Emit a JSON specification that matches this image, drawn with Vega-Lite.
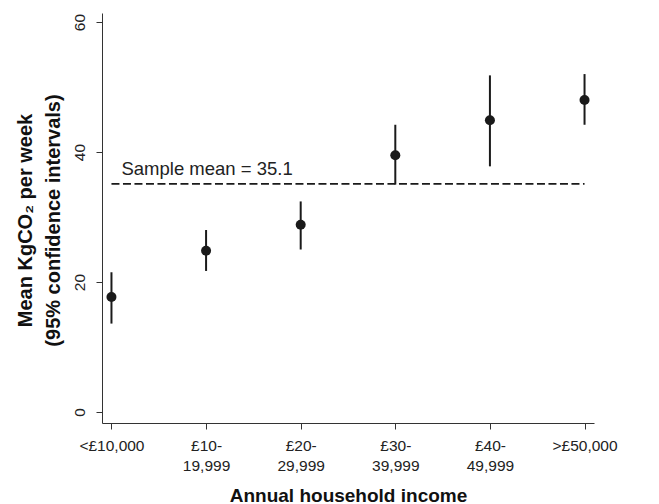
{
  "$schema": "https://vega.github.io/schema/vega-lite/v6.json",
  "width": 492,
  "height": 410,
  "autosize": "none",
  "padding": {"left": 102, "top": 13, "right": 65, "bottom": 81},
  "background": "white",
  "config": {
    "view": {"stroke": null},
    "font": "Liberation Sans",
    "axis": {"domainColor": "#333333", "tickColor": "#333333", "labelColor": "#222222", "titleColor": "#111111", "grid": false, "labelFont": "Liberation Sans", "titleFont": "Liberation Sans"}
  },
  "datasets": {
    "groups": [
      {"income": "<£10,000", "mean": 17.7, "lo": 13.6, "hi": 21.5},
      {"income": "£10-19,999", "mean": 24.8, "lo": 21.7, "hi": 28.0},
      {"income": "£20-29,999", "mean": 28.8, "lo": 25.0, "hi": 32.4},
      {"income": "£30-39,999", "mean": 39.5, "lo": 35.0, "hi": 44.2},
      {"income": "£40-49,999", "mean": 44.9, "lo": 37.8, "hi": 51.8},
      {"income": ">£50,000", "mean": 48.0, "lo": 44.2, "hi": 52.0}
    ],
    "samplemean": [
      {"from": "<£10,000", "to": ">£50,000", "value": 35.1, "label": "Sample mean = 35.1"}
    ]
  },
  "encoding": {
    "x": {
      "field": "income", "type": "nominal",
      "scale": {"type": "point", "padding": 0.1, "domain": ["<£10,000", "£10-19,999", "£20-29,999", "£30-39,999", "£40-49,999", ">£50,000"]},
      "axis": {
        "title": "Annual household income",
        "titleFontSize": 19, "titleFontWeight": "bold",
        "titleBaseline": "alphabetic", "titleY": 78,
        "labelAngle": 0, "labelFontSize": 15.5, "labelLineHeight": 20,
        "labelPadding": 9, "tickSize": 6, "labelBaseline": "top",
        "labelExpr": "indexof(datum.value, '-') > 0 ? [slice(datum.value, 0, indexof(datum.value, '-') + 1), slice(datum.value, indexof(datum.value, '-') + 1)] : datum.value"
      }
    }
  },
  "layer": [
    {
      "data": {"name": "groups"},
      "mark": {"type": "rule", "color": "#1a1a1a", "strokeWidth": 2},
      "encoding": {
        "y": {
          "field": "lo", "type": "quantitative",
          "scale": {"domain": [-1.7, 61.4], "nice": false, "zero": false},
          "axis": {
            "values": [0, 20, 40, 60],
            "title": ["Mean KgCO₂ per week", "(95% confidence intervals)"],
            "titleFontSize": 20, "titleFontWeight": "bold", "titleLineHeight": 28,
            "titleAngle": 270, "titleAlign": "center", "titleBaseline": "middle",
            "titleX": -77, "titleY": 207,
            "labelAngle": 270, "labelFontSize": 15.5, "labelPadding": 9, "tickSize": 6
          }
        },
        "y2": {"field": "hi"}
      }
    },
    {
      "data": {"name": "groups"},
      "mark": {"type": "circle", "color": "#1a1a1a", "opacity": 1, "size": 100},
      "encoding": {"y": {"field": "mean", "type": "quantitative"}}
    },
    {
      "data": {"name": "samplemean"},
      "mark": {"type": "rule", "color": "#1a1a1a", "strokeWidth": 1.8, "strokeDash": [8, 3.5]},
      "encoding": {
        "x": {"field": "from", "type": "nominal"},
        "x2": {"field": "to"},
        "y": {"field": "value", "type": "quantitative"}
      }
    },
    {
      "data": {"name": "samplemean"},
      "mark": {"type": "text", "align": "left", "baseline": "alphabetic", "dx": 10, "dy": -9, "fontSize": 18.5, "color": "#222222"},
      "encoding": {
        "x": {"field": "from", "type": "nominal"},
        "y": {"field": "value", "type": "quantitative"},
        "text": {"field": "label"}
      }
    }
  ]
}
